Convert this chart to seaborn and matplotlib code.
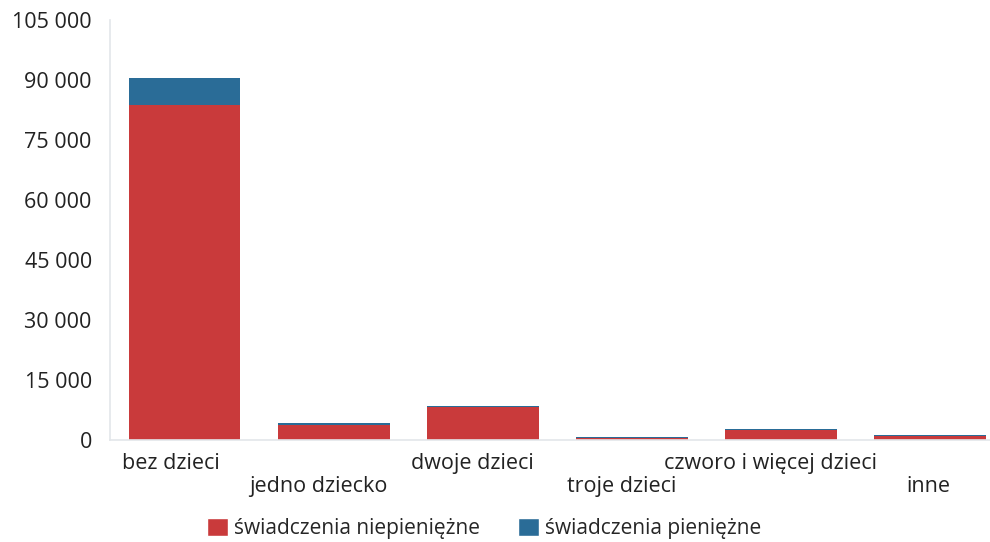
import matplotlib
matplotlib.use("Agg")
import matplotlib.pyplot as plt
import seaborn as sns
import pandas as pd
import numpy as np
from matplotlib.ticker import FuncFormatter
from matplotlib.patches import Patch

categories = ["bez dzieci", "jedno dziecko", "dwoje dzieci", "troje dzieci",
              "czworo i więcej dzieci", "inne"]
niepieniezne = [83800, 3900, 8200, 600, 2600, 1100]
pieniezne = [6600, 300, 400, 100, 100, 100]
yticks = [0, 15000, 30000, 45000, 60000, 75000, 90000, 105000]
series_names = ["świadczenia niepieniężne", "świadczenia pieniężne"]

RED = "#c93a3b"
BLUE = "#2a6c97"

sns.set_theme(style="white")
plt.rcParams["font.family"] = ["Open Sans", "DejaVu Sans"]

df = pd.DataFrame({"kat": categories,
                   "red": niepieniezne,
                   "total": np.array(niepieniezne) + np.array(pieniezne)})

fig = plt.figure(figsize=(9.9, 5.42), dpi=100)
ax = fig.add_axes([0.111, 0.188, 0.904, 0.775])

sns.barplot(data=df, x="kat", y="total", color=BLUE, width=0.75,
            saturation=1, ax=ax, edgecolor="none")
sns.barplot(data=df, x="kat", y="red", color=RED, width=0.75,
            saturation=1, ax=ax, edgecolor="none")

ax.set_ylim(0, 105000)
ax.set_xlim(-0.5, 5.5)
ax.set_yticks(yticks)
ax.yaxis.set_major_formatter(FuncFormatter(lambda v, p: f"{int(v):,}".replace(",", " ")))
ax.tick_params(axis="y", labelsize=15.5, colors="#222222", length=0, pad=13)
ax.set_xlabel("")
ax.set_ylabel("")

# staggered category labels
ax.set_xticks(range(len(categories)))
ax.set_xticklabels([])
ax.tick_params(axis="x", length=0)
offsets = [-0.09, -0.10, -0.07, -0.07, -0.07, -0.01]
for i, c in enumerate(categories):
    yoff = -0.055 if i % 2 == 0 else -0.11
    ax.text(i + offsets[i], yoff, c, transform=ax.get_xaxis_transform(),
            ha="center", va="center", fontsize=15.5, color="#222222")

for s in ["top", "right"]:
    ax.spines[s].set_visible(False)
ax.spines["left"].set_color("#e3e6ea")
ax.spines["bottom"].set_color("#e3e6ea")
ax.spines["left"].set_linewidth(1.2)
ax.spines["bottom"].set_linewidth(1.2)

handles = [Patch(facecolor=RED, label=series_names[0]),
           Patch(facecolor=BLUE, label=series_names[1])]
fig.legend(handles=handles, loc="center", bbox_to_anchor=(0.489, 0.025), ncol=2,
           frameon=False, fontsize=15, handlelength=1.0, handleheight=1.0,
           handletextpad=0.3, columnspacing=1.8)

fig.savefig("out.png", dpi=100)
